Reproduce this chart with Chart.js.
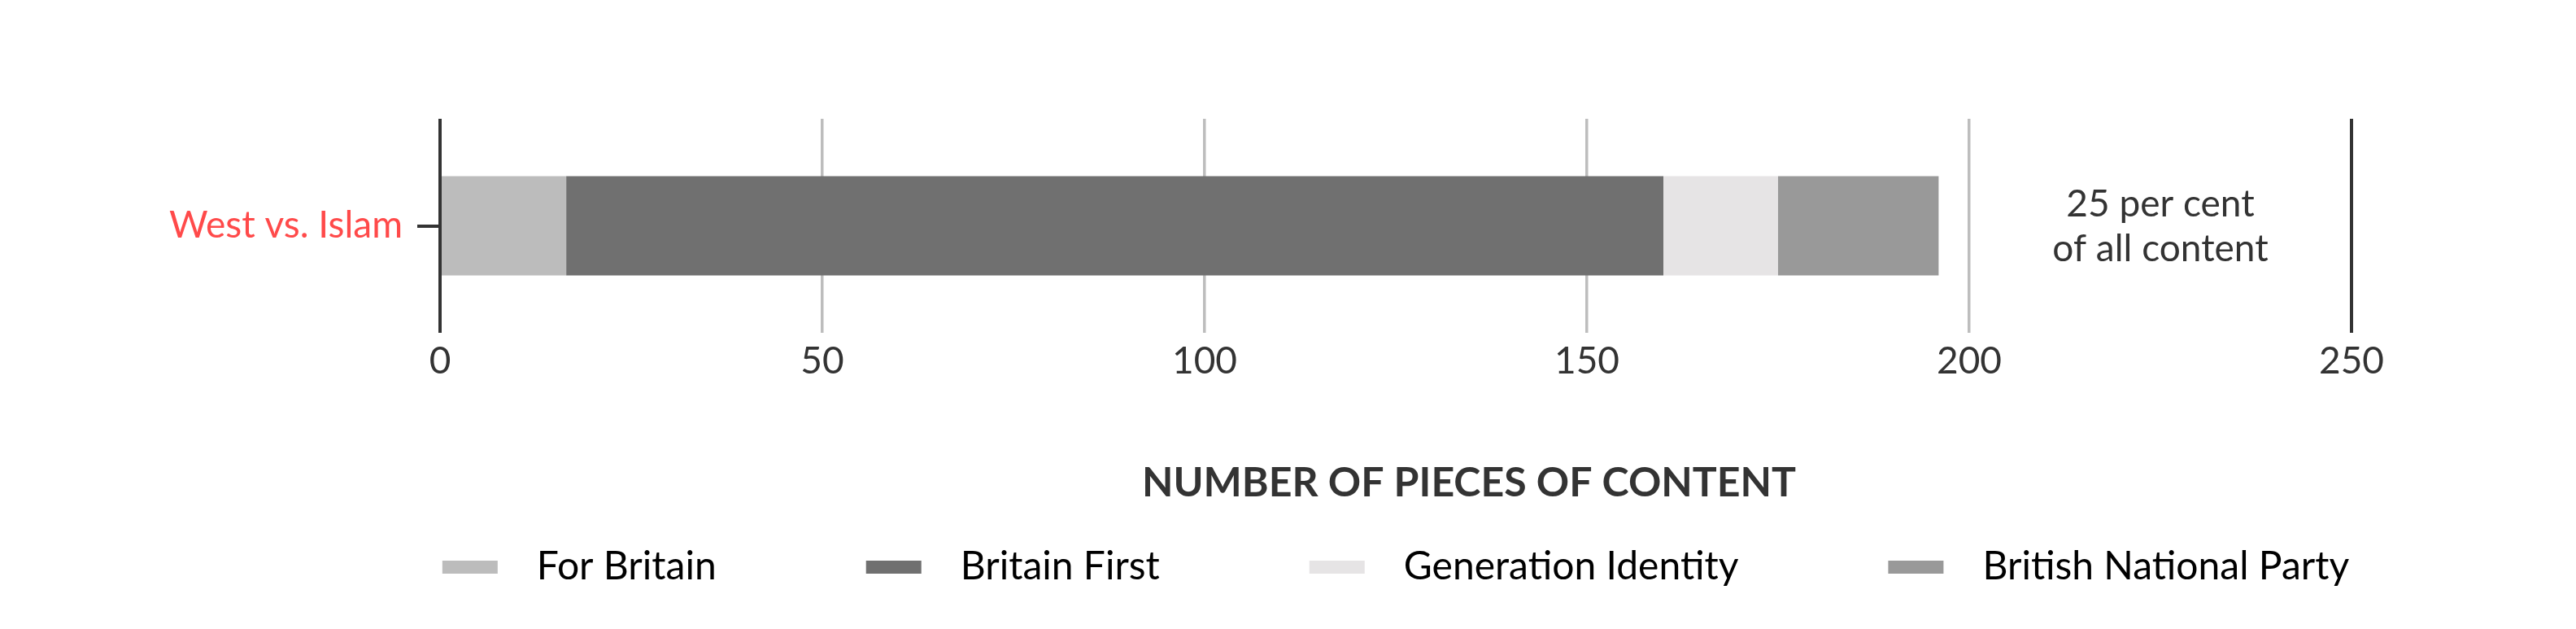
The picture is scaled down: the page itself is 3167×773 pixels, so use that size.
<!DOCTYPE html>
<html>
<head>
<meta charset="utf-8">
<script src="https://cdn.jsdelivr.net/npm/chart.js@4.4.1/dist/chart.umd.min.js"></script>
<style>
  html, body { margin: 0; padding: 0; background: #fff; }
  #wrap { width: 3167px; height: 773px; }
</style>
</head>
<body>
<div id="wrap"><canvas id="chart"></canvas></div>
<script>
// data
const categories = ['West vs. Islam'];
const seriesNames = ['For Britain', 'Britain First', 'Generation Identity', 'British National Party'];
const forBritain = [16.5];
const britainFirst = [143.5];
const generationIdentity = [15];
const britishNationalParty = [21];
const seriesColors = ['#bcbcbc', '#707070', '#e6e4e5', '#999999'];
const xTicks = [0, 50, 100, 150, 200, 250];
const axisTitle = 'NUMBER OF PIECES OF CONTENT';
const noteLines = ['25 per cent', 'of all content'];
const noteAt = 225;

const FONT = 'Lato, "Noto Sans", sans-serif';
const DARK = '#333333';
const legendPad = 184;

// text that is not part of the axes: the note next to the bar and the axis title
const extraText = {
  id: 'extraText',
  afterLayout(chart) {
    // centre the legend row under the plot area instead of the whole canvas
    const lg = chart.legend;
    if (lg) {
      lg.left = chart.chartArea.left - legendPad - 20;
      lg.right = chart.chartArea.right + legendPad + 20;
    }
  },
  afterDraw(chart) {
    const { ctx, chartArea, scales } = chart;
    const midY = (chartArea.top + chartArea.bottom) / 2;
    ctx.save();
    ctx.fillStyle = DARK;
    ctx.textAlign = 'center';
    ctx.textBaseline = 'middle';
    ctx.font = '400 46px ' + FONT;
    const nx = scales.x.getPixelForValue(noteAt);
    ctx.fillText(noteLines[0], nx, midY - 26);
    ctx.fillText(noteLines[1], nx, midY + 29);
    ctx.font = '700 50px ' + FONT;
    ctx.fillText(axisTitle, (chartArea.left + chartArea.right) / 2 + 90, 594);
    ctx.restore();
  }
};

new Chart(document.getElementById('chart'), {
  type: 'bar',
  data: {
    labels: categories,
    datasets: [
      { label: seriesNames[0], data: forBritain, backgroundColor: seriesColors[0] },
      { label: seriesNames[1], data: britainFirst, backgroundColor: seriesColors[1] },
      { label: seriesNames[2], data: generationIdentity, backgroundColor: seriesColors[2] },
      { label: seriesNames[3], data: britishNationalParty, backgroundColor: seriesColors[3] }
    ]
  },
  options: {
    indexAxis: 'y',
    responsive: true,
    maintainAspectRatio: false,
    animation: false,
    borderWidth: 0,
    barPercentage: 0.464,
    categoryPercentage: 1,
    layout: { padding: { top: 146, right: 276, left: 0, bottom: 42 } },
    scales: {
      x: {
        stacked: true,
        min: 0,
        max: 250,
        afterBuildTicks: (scale) => { scale.ticks = xTicks.map(v => ({ value: v })); },
        afterFit: (scale) => { scale.height = 264 - legendPad; },
        border: { display: false },
        grid: {
          drawTicks: false,
          color: (c) => (c.tick && (c.tick.value === 0 || c.tick.value === 250)) ? DARK : '#bdbdbd',
          lineWidth: (c) => (c.tick && (c.tick.value === 0 || c.tick.value === 250)) ? 4 : 3.5
        },
        ticks: {
          color: DARK,
          padding: 8,
          font: { family: FONT, size: 46, weight: '400' }
        }
      },
      y: {
        stacked: true,
        afterFit: (scale) => { scale.width = 541; },
        border: { display: false },
        grid: {
          offset: false,
          drawOnChartArea: false,
          drawTicks: true,
          tickLength: 28,
          color: DARK,
          lineWidth: 4
        },
        ticks: {
          color: '#ff4a4a',
          padding: 18,
          font: { family: FONT, size: 46, weight: '400' }
        }
      }
    },
    plugins: {
      legend: {
        position: 'bottom',
        fullSize: true,
        labels: {
          boxWidth: 68,
          boxHeight: 16,
          useBorderRadius: true,
          borderRadius: 5,
          padding: legendPad,
          color: DARK,
          font: { family: FONT, size: 48, weight: '400' },
          generateLabels: (chart) => chart.data.datasets.map((ds, i) => ({
            text: '\u2002' + ds.label,
            fillStyle: ds.backgroundColor,
            strokeStyle: ds.backgroundColor,
            lineWidth: 0,
            datasetIndex: i,
            hidden: false
          }))
        }
      },
      tooltip: { enabled: false }
    }
  },
  plugins: [extraText]
});
</script>
</body>
</html>
